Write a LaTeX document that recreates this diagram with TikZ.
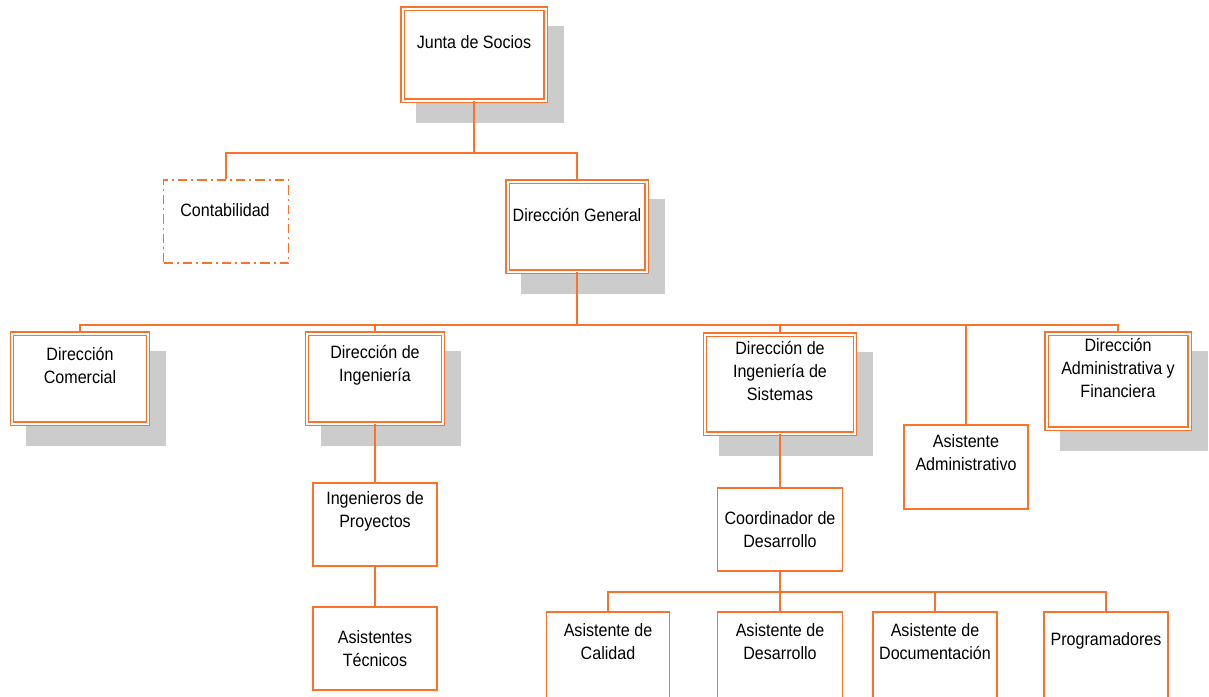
\documentclass[tikz,border=0pt]{standalone}
\usepackage{fontspec}
\setmainfont{Liberation Sans}[FakeStretch=0.9]
\usetikzlibrary{shadows}
\definecolor{orgline}{RGB}{250,115,40}
\definecolor{shgray}{RGB}{204,204,204}
\tikzset{
  dbox/.style={draw=orgline,double=white,double distance=1.5pt,line width=1pt,fill=white,
    general shadow={fill=shgray,draw=shgray,line width=3.5pt,shadow xshift=12pt,shadow yshift=-15pt}},
  sbox/.style={draw=orgline,line width=1.1pt,fill=white},
  dashbox/.style={sbox,dash pattern=on 7pt off 3pt on 1.5pt off 3pt},
  sz/.style 2 args={minimum width=#1*0.75pt,minimum height=#2*0.75pt,inner sep=0pt},
  txt/.style={font=\fontsize{13.4}{17.5}\selectfont,align=center,inner sep=0pt},
  link/.style={draw=orgline,line width=1.1pt}
}
\begin{document}
\begin{tikzpicture}[x=0.75pt,y=-0.75pt]
\useasboundingbox (0,0) rectangle (1209,696);
\clip (0,0) rectangle (1209,696);
% boxes
\node[dbox,sz={143}{92}] (js) at (474,54.5) {};
\node[dashbox,sz={125}{83}] (cont) at (226,221.5) {};
\node[dbox,sz={139}{90}] (dg) at (577,226.5) {};
\node[dbox,sz={136}{90}] (dc) at (80,378.5) {};
\node[dbox,sz={136}{90}] (di) at (375,378.5) {};
\node[dbox,sz={150}{99}] (dis) at (780,384) {};
\node[sbox,sz={124}{84}] (aa) at (966,467) {};
\node[dbox,sz={143}{95}] (daf) at (1118,381) {};
\node[sbox,sz={124}{83}] (ip) at (375,524.5) {};
\node[sbox,sz={124}{83}] (ast) at (375,648.5) {};
\node[sbox,sz={125}{83}] (cd) at (780,529.5) {};
\node[sbox,sz={123}{90}] (ac) at (608,657) {};
\node[sbox,sz={125}{90}] (ad) at (780,657) {};
\node[sbox,sz={124}{90}] (ado) at (935,657) {};
\node[sbox,sz={124}{90}] (pr) at (1106,657) {};
% texts
\node[txt] (js-t) at (474,42) {Junta de Socios};
\node[txt] (cont-t) at (225,210) {Contabilidad};
\node[txt] (dg-t) at (577,215) {Dirección General};
\node[txt] (dc-t) at (80,365.5) {Dirección\\Comercial};
\node[txt] (di-t) at (375,365.5) {Dirección de\\Ingeniería};
\node[txt] (dis-t) at (780,371) {Dirección de\\Ingeniería de\\Sistemas};
\node[txt] (aa-t) at (966,452.5) {Asistente\\Administrativo};
\node[txt] (daf-t) at (1118,368) {Dirección\\Administrativa y\\Financiera};
\node[txt] (ip-t) at (375,511.5) {Ingenieros de\\Proyectos};
\node[txt] (ast-t) at (375,648.5) {Asistentes\\Técnicos};
\node[txt] (cd-t) at (780,529.5) {Coordinador de\\Desarrollo};
\node[txt] (ac-t) at (608,641.5) {Asistente de\\Calidad};
\node[txt] (ad-t) at (780,641.5) {Asistente de\\Desarrollo};
\node[txt] (ado-t) at (935,641.5) {Asistente de\\Documentación};
\node[txt] (pr-t) at (1106,641) {Programadores};
% links
\coordinate (b1) at (474,153);
\coordinate (b2) at (577,325);
\coordinate (b3) at (780,592);
\draw[link] (js.south) -- (b1);
\draw[link] (cont.north) |- (b1) -| (dg.north);
\draw[link] (dg.south) -- (b2);
\draw[link] (dc.north) |- (b2) -| (daf.north);
\foreach \n in {di,dis,aa} \draw[link] (b2 -| \n.north) -- (\n.north);
\draw[link] (di.south) -- (ip.north);
\draw[link] (ip.south) -- (ast.north);
\draw[link] (dis.south) -- (cd.north);
\draw[link] (cd.south) -- (b3);
\draw[link] (ac.north) |- (b3) -| (pr.north);
\foreach \n in {ad,ado} \draw[link] (b3 -| \n.north) -- (\n.north);
\end{tikzpicture}
\end{document}
